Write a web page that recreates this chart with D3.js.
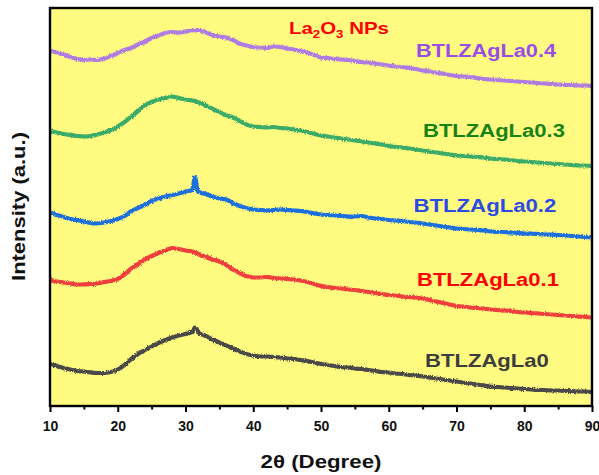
<!DOCTYPE html>
<html>
<head>
<meta charset="utf-8">
<script src="https://cdnjs.cloudflare.com/ajax/libs/d3/7.8.5/d3.min.js"></script>
<style>
  body { margin: 0; background: #fff; }
  svg text { font-family: "Liberation Sans", Arial, sans-serif; font-weight: bold; }
</style>
</head>
<body>
<div id="chart"></div>
<script>
// 2theta positions (degrees), shared by all patterns
const twoTheta = [
  10, 11, 12, 13, 14, 15, 16, 17, 18, 19,
  20, 21, 22, 23, 24, 25, 26, 27, 28, 29,
  30, 31, 31.4, 31.8, 32, 33, 34, 35, 36, 37,
  38, 39, 40, 41, 42, 43, 44, 45, 46, 47,
  48, 49, 50, 51, 52, 53, 54, 55, 56, 57,
  58, 59, 60, 61, 62, 63, 64, 65, 66, 67,
  68, 69, 70, 71, 72, 73, 74, 75, 76, 77,
  78, 79, 80, 81, 82, 83, 84, 85, 86, 87,
  88, 89, 90
]

// intensities (a.u., stacked with offsets as in the figure)
const la04 = [
  355.5, 353.5, 351.5, 349, 347, 346, 346.5, 346, 347.5, 350,
  353, 356, 358, 361.5, 364.5, 368, 370.5, 373, 374, 373.5,
  374.5, 375.5, 375.5, 376, 376, 373.5, 371, 369.5, 368.5, 366,
  362.5, 360.5, 359, 358.5, 358, 359.5, 359, 357.5, 356.5, 355,
  353.5, 351, 348.5, 348, 347, 346.5, 346, 345, 344, 343.5,
  342.5, 341.5, 340.5, 339.5, 339, 338, 337, 335.5, 334.5, 333.5,
  332.5, 331, 330, 329.5, 329, 328, 327, 326.5, 326, 325.5,
  325, 324.5, 324, 323.5, 323, 322.5, 322, 321.5, 321, 321,
  320.5, 320.5, 320
]
const la03 = [
  275, 273.5, 272, 271, 270, 269.5, 270, 271.5, 273.5, 276,
  279.5, 284, 289.5, 295, 300.5, 304, 306.5, 308, 309.5, 308,
  306.5, 305.5, 305, 304, 303.5, 300.5, 297, 294, 291, 288.5,
  285, 281.5, 279.5, 279, 278.5, 279, 278, 277.5, 276.5, 275.5,
  274, 272, 270.5, 269.5, 268.5, 267.5, 266.5, 265.5, 264.5, 263.5,
  262.5, 261.5, 260, 259, 258.5, 257.5, 256.5, 255.5, 254.5, 253.5,
  252.5, 251.5, 250.5, 250, 249.5, 249, 248.5, 247.5, 247, 246.5,
  246, 245, 244.5, 244, 243.5, 243, 242.5, 242, 241.5, 241,
  240.5, 240.5, 240
]
const la02 = [
  193.5, 191, 189, 187, 186, 184.5, 183, 182.5, 183.5, 185,
  187, 190, 195, 198, 201.5, 205, 207.5, 209.5, 211, 212.5,
  214.5, 216, 229, 215, 214, 212, 209.5, 207.5, 206.5, 203,
  200, 198, 196.5, 196, 195.5, 196, 196.5, 196, 195.5, 195,
  194, 192.5, 191.5, 191, 190.5, 190, 189.5, 189.5, 190, 188.5,
  187.5, 187, 186, 185.5, 185, 184, 183.5, 182.5, 181.5, 180.5,
  179.5, 178.5, 177.5, 177, 176.5, 176, 175.5, 174.5, 174, 174,
  173.5, 173, 172.5, 172.5, 172, 171.5, 171.5, 171, 170.5, 170,
  169.5, 169, 168.5
]
const la01 = [
  126, 124.5, 123.5, 122.5, 121.5, 121.5, 122, 122.5, 124, 125,
  127, 131.5, 137.5, 142, 146.5, 150, 153, 155.5, 158, 157,
  155.5, 154.5, 153.5, 152.5, 151.5, 149.5, 146.5, 144.5, 141, 136.5,
  133, 130, 128.5, 128.5, 129, 128, 127.5, 127, 126.5, 125.5,
  124, 122, 120, 119, 118, 117.5, 116.5, 116, 115, 114,
  113, 112, 111, 110.5, 109.5, 109, 108.5, 107.5, 106, 104.5,
  103, 101.5, 100, 99.5, 98.5, 98, 97.5, 96.5, 96, 95.5,
  95, 94, 93.5, 93, 92.5, 92, 91.5, 91, 90.5, 90,
  89.5, 89, 88.5
]
const la0 = [
  42.5, 40, 38, 36.5, 35, 34.5, 33.5, 33, 33, 34,
  36.5, 41, 47, 52, 56, 59.5, 63, 66, 68.5, 70.5,
  72, 74, 78.5, 75, 73, 70, 66.5, 63.5, 60.5, 57.5,
  54.5, 52, 50.5, 49.5, 49.5, 49, 48.5, 47.5, 47, 46,
  45, 43.5, 42, 41, 40, 39, 38.5, 37.5, 37, 36,
  35, 34, 33.5, 32.5, 32, 31, 30.5, 29.5, 28.5, 27.5,
  26.5, 25.5, 24.5, 23.5, 22.5, 21.5, 20.5, 19.5, 19, 18.5,
  18, 17.5, 17, 16.5, 16, 16, 15.5, 15.5, 15, 15,
  14.5, 14.5, 14
]

const sampleNames = ['BTLZAgLa0', 'BTLZAgLa0.1', 'BTLZAgLa0.2', 'BTLZAgLa0.3', 'BTLZAgLa0.4']
const xTicks = [10, 20, 30, 40, 50, 60, 70, 80, 90]
const xMinorTicks = [15, 25, 35, 45, 55, 65, 75, 85]

const allSeries = [la0, la01, la02, la03, la04]

//container with dimensions
let width = 599,
    height = 475,
    margin = { top: 8, right: 7, bottom: 69, left: 50 }

let svg = d3.select('#chart')
    .append('svg')
    .attr('width', width)
    .attr('height', height)

//scales
let xScale = d3.scaleLinear()
    .domain([10, 90])
    .range([margin.left, width - margin.right])

let yScale = d3.scaleLinear()
    .domain([0, 398])
    .range([height - margin.bottom, margin.top])

//rough edge for the measured patterns (detector noise look)
let defs = svg.append('defs')
let rough = defs.append('filter')
    .attr('id', 'rough')
    .attr('x', '-2%').attr('y', '-20%')
    .attr('width', '104%').attr('height', '140%')
rough.append('feTurbulence')
    .attr('type', 'fractalNoise')
    .attr('baseFrequency', '0.9 0.6')
    .attr('numOctaves', 2)
    .attr('seed', 3)
    .attr('result', 'noise')
rough.append('feDisplacementMap')
    .attr('in', 'SourceGraphic')
    .attr('in2', 'noise')
    .attr('scale', 3)
    .attr('xChannelSelector', 'R')
    .attr('yChannelSelector', 'G')

defs.append('clipPath')
    .attr('id', 'plot-clip')
    .append('rect')
    .attr('x', margin.left)
    .attr('y', margin.top)
    .attr('width', width - margin.left - margin.right)
    .attr('height', height - margin.top - margin.bottom)

//yellow plot background
svg.append('rect')
    .attr('x', margin.left)
    .attr('y', margin.top)
    .attr('width', width - margin.left - margin.right)
    .attr('height', height - margin.top - margin.bottom)
    .style('fill', '#FFFB80')

//patterns
let lineColors = ['#4A4A4A', '#F03E3E', '#1D6FDD', '#3AAB6B', '#B07CE2']
let line = d3.line()
    .x((d, i) => xScale(twoTheta[i]))
    .y(d => yScale(d))
    .curve(d3.curveMonotoneX)

svg.append('g')
    .attr('clip-path', 'url(#plot-clip)')
    .append('g')
    .attr('filter', 'url(#rough)')
    .selectAll('path')
    .data(allSeries)
    .enter()
    .append('path')
    .attr('d', d => line(d))
    .style('fill', 'none')
    .style('stroke', (d, i) => lineColors[i])
    .style('stroke-width', 4.2)
    .style('stroke-linejoin', 'round')

//frame
svg.append('rect')
    .attr('x', margin.left)
    .attr('y', margin.top)
    .attr('width', width - margin.left - margin.right)
    .attr('height', height - margin.top - margin.bottom)
    .style('fill', 'none')
    .style('stroke', '#000')
    .style('stroke-width', 2.4)

//x axis, major + minor ticks
let xAxis = d3.axisBottom(xScale)
    .tickValues(xTicks)
    .tickSize(6)
    .tickPadding(9)
    .tickFormat(d3.format('d'))

let gx = svg.append('g')
    .attr('transform', `translate(0, ${height - margin.bottom})`)
    .call(xAxis)
gx.select('.domain').remove()
gx.selectAll('line').style('stroke', '#000').style('stroke-width', 2)
gx.selectAll('text')
    .style('font-size', '14px')
    .style('font-weight', 'bold')
    .style('fill', '#111')

let gxm = svg.append('g')
    .attr('transform', `translate(0, ${height - margin.bottom})`)
    .call(d3.axisBottom(xScale).tickValues(xMinorTicks).tickSize(3.5).tickFormat(''))
gxm.select('.domain').remove()
gxm.selectAll('line').style('stroke', '#000').style('stroke-width', 2)

//stretch a text group horizontally to a target width
function fit(g, w) {
    let bb = g.select('text').node().getBBox()
    g.select('text').attr('transform', `scale(${w / bb.width},1)`)
}

//axis titles
let xTitle = svg.append('g').attr('transform', 'translate(321, 467.5)')
xTitle.append('text')
    .attr('text-anchor', 'middle')
    .style('font-size', '17.5px')
    .style('fill', '#111')
    .text('2θ (Degree)')
fit(xTitle, 121)

let yTitle = svg.append('g').attr('transform', 'translate(25, 206.5) rotate(-90)')
yTitle.append('text')
    .attr('text-anchor', 'middle')
    .style('font-size', '17.5px')
    .style('fill', '#111')
    .text('Intensity (a.u.)')
fit(yTitle, 149)

//sample labels
let labelColors = ['#3D3D3D', '#FF0000', '#2B4BE6', '#178317', '#9C4DE6']
let labelPos = [[425, 367.3, 124], [417, 286, 142], [413.5, 211.7, 143], [423, 137.3, 142], [416, 56.7, 141]]
sampleNames.forEach((name, i) => {
    let g = svg.append('g').attr('transform', `translate(${labelPos[i][0]}, ${labelPos[i][1]})`)
    g.append('text')
        .style('font-size', '18.5px')
        .style('fill', labelColors[i])
        .text(name)
    fit(g, labelPos[i][2])
})

//reference label
let ref = svg.append('g').attr('transform', 'translate(289, 34)')
let refText = ref.append('text')
    .style('font-size', '17px')
    .style('fill', '#FF0000')
refText.append('tspan').text('La')
refText.append('tspan').attr('dy', 4).style('font-size', '11px').text('2')
refText.append('tspan').attr('dy', -4).text('O')
refText.append('tspan').attr('dy', 4).style('font-size', '11px').text('3')
refText.append('tspan').attr('dy', -4).text(' NPs')
fit(ref, 100)
</script>
</body>
</html>
